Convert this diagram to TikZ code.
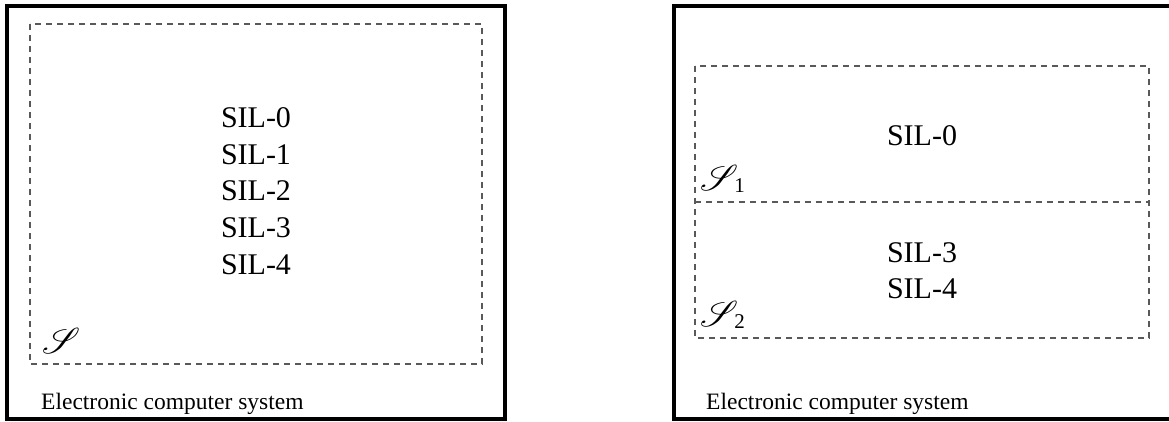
\documentclass[tikz,border=0pt]{standalone}
\usepackage{fontspec}
\setmainfont{Liberation Serif}
\usepackage{mathrsfs}
\usepackage{graphicx}
\newcommand{\bigS}{\scalebox{1.45}{$\mathscr{S}$}}
\newcommand{\bigSsub}[1]{\bigS\hspace{-4pt}{\fontsize{21}{21}\selectfont\raisebox{-2pt}{#1}}}
\begin{document}
\begin{tikzpicture}[x=1pt,y=-1pt,
  outer/.style={line width=4pt, draw=black},
  dbox/.style={draw=black!65, line width=1.2pt, dash pattern=on 6pt off 5pt},
  sil/.style={font=\fontsize{30}{36}\selectfont, anchor=base, inner sep=0pt},
  lbl/.style={font=\fontsize{23.5}{28}\selectfont, anchor=base west, inner sep=0pt},
  scr/.style={font=\fontsize{30}{36}\selectfont, anchor=base west, inner sep=0pt}]
\useasboundingbox (0,0) rectangle (1169,421);
% left panel
\draw[outer] (6.5,6) rectangle (505,418.5);
\draw[dbox] (30,24) rectangle (482,364);
\node[sil] (l0) at (256,127.3) {SIL-0};
\node[sil] (l1) at (256,164) {SIL-1};
\node[sil] (l2) at (256,200.7) {SIL-2};
\node[sil] (l3) at (256,237.3) {SIL-3};
\node[sil] (l4) at (256,274) {SIL-4};
\node[scr] (ls) at (42,353) {$\bigS$};
\node[lbl] (llab) at (41,409) {Electronic computer system};
% right panel
\draw[outer] (1175,6) -- (674,6) -- (674,419) -- (1175,419);
\draw[dbox] (695,66) rectangle (1149,338);
\draw[dbox] (695,202) -- (1149,202);
\node[sil] (r0) at (922,145) {SIL-0};
\node[sil] (r3) at (922,262) {SIL-3};
\node[sil] (r4) at (922,298) {SIL-4};
\node[scr] (rs1) at (700,190) {\bigSsub{1}};
\node[scr] (rs2) at (700,326) {\bigSsub{2}};
\node[lbl] (rlab) at (706,409) {Electronic computer system};
\end{tikzpicture}
\end{document}
